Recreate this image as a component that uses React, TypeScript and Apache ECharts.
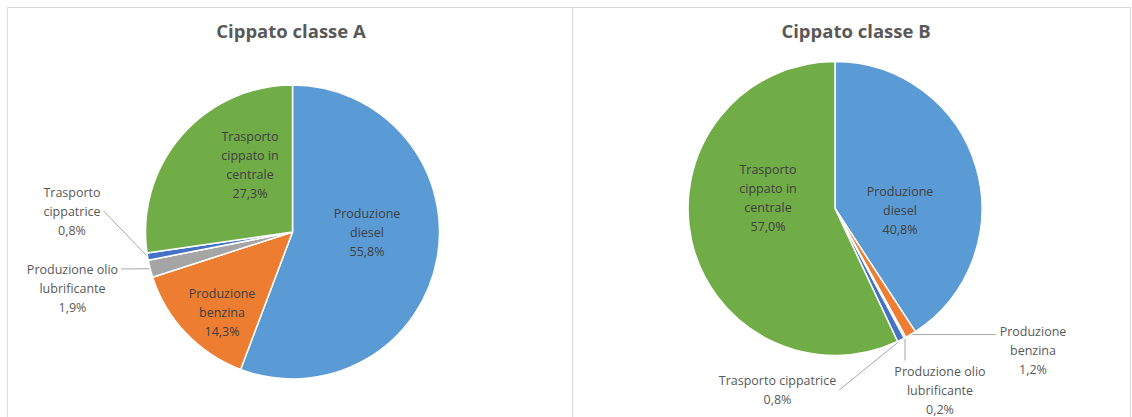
import React, { useEffect, useRef } from "react";
import * as echarts from "echarts";

// ---------- data ----------
const categories = [
  "Produzione diesel",
  "Produzione benzina",
  "Produzione olio lubrificante",
  "Trasporto cippatrice",
  "Trasporto cippato in centrale",
];
const labelsA = [
  "Produzione\ndiesel",
  "Produzione\nbenzina",
  "Produzione olio\nlubrificante",
  "Trasporto\ncippatrice",
  "Trasporto\ncippato in\ncentrale",
];
const labelsB = [
  "Produzione\ndiesel",
  "Produzione\nbenzina",
  "Produzione olio\nlubrificante",
  "Trasporto cippatrice",
  "Trasporto\ncippato in\ncentrale",
];
const valuesA = [55.8, 14.3, 1.9, 0.8, 27.3];
const valuesB = [40.8, 1.2, 0.2, 0.8, 57.0];
const titles = ["Cippato classe A", "Cippato classe B"];

// ---------- style / layout ----------
const COLORS = ["#5B9BD5", "#ED7D31", "#A5A5A5", "#4472C4", "#70AD47"];
const FONT = "'Open Sans', 'Noto Sans', sans-serif";
const RADIUS = 147;
const CENTER_A = [292.5, 232];
const CENTER_B = [835, 208.5];

type End = "right" | "rightTop" | "leftTop" | "top";
type Place = { dx: number; dy: number; end?: End };
const PLACE_A: Place[] = [
  { dx: 74.5, dy: 0 },
  { dx: -70.5, dy: 80 },
  { dx: -220, dy: 56, end: "rightTop" },
  { dx: -220.5, dy: -21, end: "right" },
  { dx: -42.5, dy: -67 },
];
const PLACE_B: Place[] = [
  { dx: 65, dy: 1.5 },
  { dx: 198, dy: 141.5, end: "leftTop" },
  { dx: 105, dy: 181.5, end: "top" },
  { dx: -57.5, dy: 181.5, end: "right" },
  { dx: -67, dy: -10.5 },
];

const fmt = (v: number) => v.toFixed(1).replace(".", ",") + "%";

function makeLayout(center: number[], values: number[], places: Place[]) {
  const total = values.reduce((a, b) => a + b, 0);
  return (p: any) => {
    const i = p.dataIndex;
    const pl = places[i];
    const cx = center[0] + pl.dx;
    const cy = center[1] + pl.dy;
    const w = p.labelRect.width;
    const h = p.labelRect.height;
    const res: any = { x: cx, y: cy, align: "center", verticalAlign: "middle" };
    if (pl.end) {
      const before = values.slice(0, i).reduce((a, b) => a + b, 0);
      const mid = ((before + values[i] / 2) / total) * Math.PI * 2;
      const ang = Math.PI / 2 - mid;
      const sx = center[0] + RADIUS * Math.cos(ang);
      const sy = center[1] - RADIUS * Math.sin(ang);
      const left = cx - w / 2;
      const right = cx + w / 2;
      const top = cy - h / 2;
      let e: number[];
      switch (pl.end) {
        case "right":
          e = [right + 3, cy];
          break;
        case "rightTop":
          e = [right + 3, top + 9.5];
          break;
        case "leftTop":
          e = [left - 4, sy];
          break;
        default:
          e = [sx, top - 1];
      }
      res.labelLinePoints = [
        [sx, sy],
        [(sx + e[0]) / 2, (sy + e[1]) / 2],
        e,
      ];
    }
    return res;
  };
}

function makeSeries(
  center: number[],
  values: number[],
  labels: string[],
  places: Place[]
) {
  return {
    type: "pie",
    center,
    radius: RADIUS,
    startAngle: 90,
    clockwise: true,
    avoidLabelOverlap: false,
    itemStyle: { borderColor: "#ffffff", borderWidth: 1.5 },
    label: {
      show: true,
      color: "#404040",
      fontFamily: FONT,
      fontSize: 12.5,
      lineHeight: 19,
      formatter: (p: any) => labels[p.dataIndex] + "\n" + fmt(p.value),
    },
    labelLine: { show: true, lineStyle: { color: "#A6A6A6", width: 1 } },
    labelLayout: makeLayout(center, values, places),
    data: values.map((v, i) => ({
      name: categories[i],
      value: v,
      itemStyle: { color: COLORS[i] },
      label: {
        position: places[i].end ? "outside" : "inside",
        color: places[i].end ? "#595959" : "#404040",
      },
      labelLine: { show: !!places[i].end },
    })),
  };
}

export default function App() {
  const ref = useRef<HTMLDivElement>(null);
  useEffect(() => {
    if (!ref.current) return;
    const chart = echarts.init(ref.current, null, { renderer: "svg" });
    const titleStyle = {
      fontFamily: FONT,
      fontSize: 18.5,
      fontWeight: "bold",
      color: "#595959",
    };
    chart.setOption({
      animation: false,
      backgroundColor: "#ffffff",
      title: [
        { text: titles[0], left: 286, top: 16, textAlign: "center", textStyle: titleStyle },
        { text: titles[1], left: 851, top: 16, textAlign: "center", textStyle: titleStyle },
      ],
      graphic: [
        {
          type: "rect",
          silent: true,
          z: -10,
          shape: { x: 7.5, y: 7.5, width: 565, height: 430 },
          style: { fill: "none", stroke: "#D9D9D9", lineWidth: 1 },
        },
        {
          type: "rect",
          silent: true,
          z: -10,
          shape: { x: 572.5, y: 7.5, width: 558, height: 430 },
          style: { fill: "none", stroke: "#D9D9D9", lineWidth: 1 },
        },
      ],
      series: [
        makeSeries(CENTER_A, valuesA, labelsA, PLACE_A),
        makeSeries(CENTER_B, valuesB, labelsB, PLACE_B),
      ],
    });
    return () => chart.dispose();
  }, []);
  return (
    <div
      ref={ref}
      style={{ position: "absolute", left: 0, top: 0, width: 1132, height: 417 }}
    />
  );
}
